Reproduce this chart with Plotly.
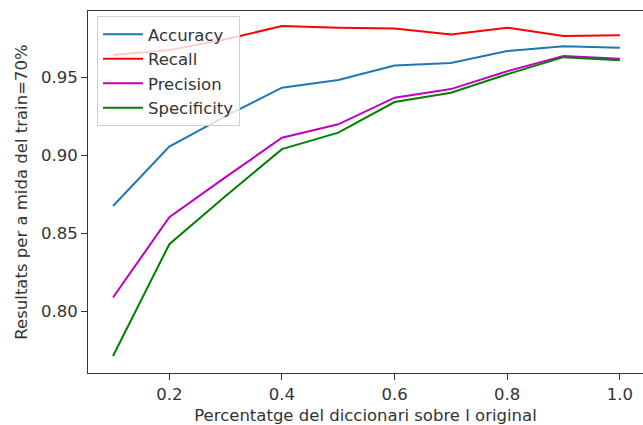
import plotly.graph_objects as go

x_vals = [0.1, 0.2, 0.3, 0.4, 0.5, 0.6, 0.7, 0.8, 0.9, 1.0]
accuracy = [0.8675, 0.9056, 0.9252, 0.9434, 0.9483, 0.9577, 0.9592, 0.9669, 0.9700, 0.9690]
recall = [0.9643, 0.9675, 0.9745, 0.9829, 0.9819, 0.9814, 0.9776, 0.9819, 0.9765, 0.9771]
precision = [0.8088, 0.8604, 0.8860, 0.9113, 0.9199, 0.9370, 0.9425, 0.9540, 0.9637, 0.9620]
specificity = [0.7713, 0.8430, 0.8740, 0.9040, 0.9146, 0.9342, 0.9402, 0.9520, 0.9630, 0.9610]

series = [
    ("Accuracy", accuracy, "#1f77b4"),
    ("Recall", recall, "#ff0000"),
    ("Precision", precision, "#bf00bf"),
    ("Specificity", specificity, "#008000"),
]

FONT = "DejaVu Sans"
FS = 16.5
TXT = "#333333"
fig = go.Figure()
for i, (name, vals, col) in enumerate(series):
    fig.add_trace(go.Scatter(x=x_vals, y=vals, mode="lines", name=name,
                             line=dict(color=col, width=2)))

fig.update_layout(
    width=643, height=425,
    margin=dict(l=88, r=0, t=11, b=52),
    paper_bgcolor="white", plot_bgcolor="white",
    font=dict(family=FONT, size=FS, color=TXT),
    showlegend=True,
    legend=dict(x=0.0162, y=0.986, xanchor="left", yanchor="top",
                bgcolor="rgba(255,255,255,0.8)", bordercolor="#d0d0d0", borderwidth=1,
                itemwidth=40,
                font=dict(family=FONT, size=FS, color=TXT)),
    xaxis=dict(range=[0.0556, 1.0411], tickvals=[0.2, 0.4, 0.6, 0.8, 1.0],
               ticktext=["0.2", "0.4", "0.6", "0.8", "1.0"],
               showgrid=False, zeroline=False,
               showline=True, linecolor="#333333", linewidth=1, mirror=True,
               ticks="outside", ticklen=6, tickcolor="#333333",
               tickfont=dict(family=FONT, size=FS, color=TXT),
               title=dict(text="Percentatge del diccionari sobre l original", standoff=6,
                          font=dict(family=FONT, size=FS, color=TXT))),
    yaxis=dict(range=[0.7604, 0.9926], tickvals=[0.80, 0.85, 0.90, 0.95],
               ticktext=["0.80", "0.85", "0.90", "0.95"],
               showgrid=False, zeroline=False,
               showline=True, linecolor="#333333", linewidth=1, mirror=False,
               ticks="outside", ticklen=6, tickcolor="#333333",
               tickfont=dict(family=FONT, size=FS, color=TXT),
               title=dict(text="Resultats per a mida del train=70%", standoff=9,
                          font=dict(family=FONT, size=FS, color=TXT))),
)

fig.write_html("out.html")
